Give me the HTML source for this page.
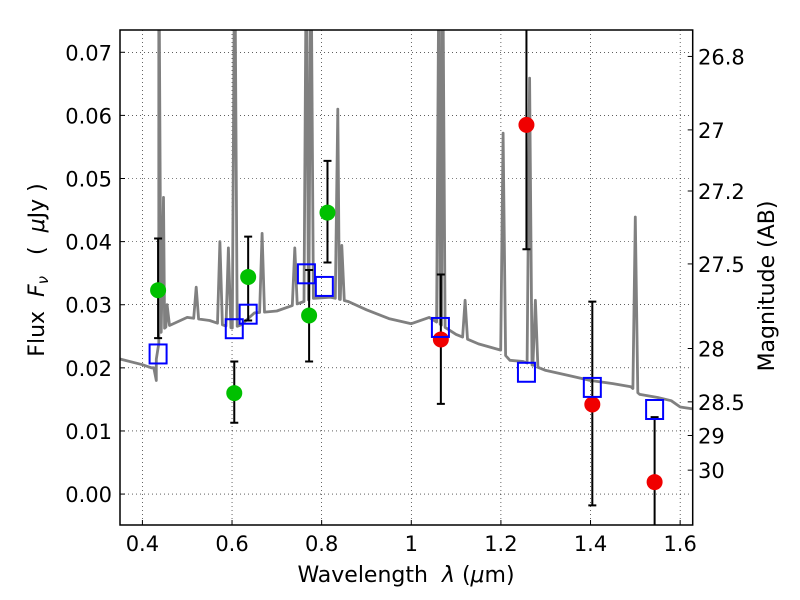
<!DOCTYPE html>
<html><head><meta charset="utf-8"><style>
body{margin:0;background:#fff}
svg text{font-family:"DejaVu Sans","Liberation Sans",sans-serif;white-space:pre}
</style></head><body>
<svg id="chart" width="800" height="600" xmlns="http://www.w3.org/2000/svg" style="position:absolute;left:0;top:0">
<rect width="800" height="600" fill="#fff"/>
<defs><clipPath id="clip"><rect x="120" y="30" width="572.7" height="495"/></clipPath></defs>
<g id="grid"></g>
<g id="plot" clip-path="url(#clip)"></g>
<g id="axes"></g>
</svg>
<script>
const contW=[0.35,0.40,0.42,0.428,0.44,0.451,0.5,0.55,0.6,0.62,0.65,0.7,0.74,0.78,0.82,0.86,0.9,0.95,1.0,1.04,1.08,1.1,1.15,1.2,1.22,1.25,1.3,1.35,1.4,1.45,1.49,1.51,1.55,1.58,1.6,1.628];
const contF=[0.0214,0.0205,0.0200,0.0200,0.0255,0.0264,0.0280,0.0275,0.0263,0.0268,0.0287,0.0290,0.0300,0.0310,0.0312,0.0305,0.0292,0.0278,0.0270,0.0280,0.0262,0.0253,0.0238,0.0228,0.0212,0.0210,0.0196,0.0188,0.0180,0.0175,0.0170,0.0158,0.0153,0.0148,0.0138,0.0135];
const lineW=[0.431,0.4365,0.447,0.455,0.52,0.573,0.592,0.606,0.667,0.74,0.766,0.776,0.836,0.845,1.062,1.07,1.12,1.205,1.264,1.277,1.50];
const lineF=[0.018,0.09,0.047,0.030,0.0328,0.040,0.039,0.09,0.0413,0.039,0.09,0.09,0.061,0.0394,0.09,0.09,0.0307,0.0572,0.0659,0.0307,0.0439];
const greenW=[0.435,0.605,0.636,0.772,0.813];
const greenF=[0.0323,0.0160,0.0344,0.0283,0.0446];
const greenLo=[0.0247,0.0113,0.0275,0.0210,0.0367];
const greenHi=[0.0405,0.0210,0.0408,0.0355,0.0528];
const redW=[1.066,1.257,1.404,1.543];
const redF=[0.0245,0.0585,0.0142,0.0019];
const redLo=[0.0143,0.0388,-0.0018,-0.01];
const redHi=[0.0348,0.09,0.0305,0.0122];
const blueW=[0.435,0.605,0.636,0.766,0.806,1.065,1.257,1.404,1.543];
const blueF=[0.0222,0.0262,0.0285,0.0349,0.0329,0.0264,0.0193,0.0169,0.0134];
const xTicks=[0.4,0.6,0.8,1,1.2,1.4,1.6];
const yTicks=[0,0.01,0.02,0.03,0.04,0.05,0.06,0.07];
const magTicks=[26.8,27,27.2,27.5,28,28.5,29,30];

const X0=120,X1=692.7,Y0=30,Y1=525,xmin=0.350,xmax=1.628,ymin=-0.0049,ymax=0.07353;
const sx=v=>X0+(v-xmin)/(xmax-xmin)*(X1-X0);
const sy=v=>Y1-(v-ymin)/(ymax-ymin)*(Y1-Y0);
const NS="http://www.w3.org/2000/svg";
function mk(tag,attrs,parent){const e=document.createElementNS(NS,tag);for(const k in attrs)e.setAttribute(k,attrs[k]);document.getElementById(parent).appendChild(e);return e;}

xTicks.forEach(t=>{
 const l=mk('line',{x1:sx(t),x2:sx(t),y1:Y0,y2:Y1,stroke:'#000','stroke-width':0.6,'stroke-dasharray':'1,3'},'grid');
 
 
 const tk=mk('line',{x1:sx(t),x2:sx(t),y1:Y1,y2:Y1-5,stroke:'#000'},'axes');
 
 
 const tx=mk('text',{x:sx(t),y:551,'text-anchor':'middle','font-size':21},'axes');tx.textContent=String(t);
 
 
});
yTicks.forEach(t=>{
 const l=mk('line',{x1:X0,x2:X1,y1:sy(t),y2:sy(t),stroke:'#000','stroke-width':0.6,'stroke-dasharray':'1,3'},'grid');
 
 
 const tk=mk('line',{x1:X0,x2:X0+5,y1:sy(t),y2:sy(t),stroke:'#000'},'axes');
 
 
 const tx=mk('text',{x:112,y:sy(t)+8,'text-anchor':'end','font-size':21},'axes');tx.textContent=t.toFixed(2);
 
 
});
magTicks.forEach(m=>{
 const f=Math.pow(10,(23.9-m)/2.5);
 const tk=mk('line',{x1:X1-5,x2:X1,y1:sy(f)-1,y2:sy(f)-1,stroke:'#000'},'axes');
 
 
 const tx=mk('text',{x:698,y:sy(f)+7,'font-size':21},'axes');tx.textContent=String(m);
 
 
});

const cont=w=>{for(let i=0;i<contW.length-1;i++)if(w<=contW[i+1])return contF[i]+(contF[i+1]-contF[i])*(w-contW[i])/(contW[i+1]-contW[i]);return contF[contF.length-1];};
const pts=[];
contW.forEach((w,i)=>{if(!lineW.some(lw=>Math.abs(lw-w)<0.006))pts.push([w,contF[i]]);});
lineW.forEach((w,i)=>{pts.push([w-0.0055,cont(w-0.0055)]);pts.push([w,lineF[i]]);pts.push([w+0.0055,cont(w+0.0055)]);});
pts.sort((a,b)=>a[0]-b[0]);
const spec=mk('path',{d:pts.map((p,i)=>(i?'L':'M')+sx(p[0]).toFixed(1)+','+sy(p[1]).toFixed(1)).join(''),fill:'none',stroke:'#808080','stroke-width':2.8,'stroke-linejoin':'round'},'plot');



function errs(W,Lo,Hi){W.forEach((w,i)=>{
 const g=mk('path',{d:`M${sx(w)},${sy(Lo[i])}V${sy(Hi[i])}M${sx(w)-4},${sy(Lo[i])}h8M${sx(w)-4},${sy(Hi[i])}h8`,stroke:'#000','stroke-width':2,fill:'none'},'plot');
 
 
});}
errs(greenW,greenLo,greenHi);errs(redW,redLo,redHi);
greenW.forEach((w,i)=>{const c=mk('circle',{cx:sx(w),cy:sy(greenF[i]),r:8,fill:'#00c000'},'plot');
 
 });
redW.forEach((w,i)=>{const c=mk('circle',{cx:sx(w),cy:sy(redF[i]),r:8,fill:'#f00000'},'plot');
 
 });
blueW.forEach((w,i)=>{const r=mk('rect',{x:sx(w)-8.5,y:sy(blueF[i])-9.5,width:17,height:19,fill:'none',stroke:'#0000ff','stroke-width':2},'plot');
 
 });

const fr=mk('rect',{x:X0,y:Y0,width:X1-X0,height:Y1-Y0,fill:'none',stroke:'#000','stroke-width':1.5},'axes');


</script>
<svg style="position:absolute;left:0;top:0" width="800" height="600" xmlns="http://www.w3.org/2000/svg">
<text x="406" y="582" text-anchor="middle" font-size="22" font-family="DejaVu Sans,sans-serif" style="white-space:pre">Wavelength  <tspan font-style="italic">λ</tspan> (<tspan font-style="italic">μ</tspan>m)</text>
<text transform="translate(44,270) rotate(-90)" text-anchor="middle" font-size="22" font-family="DejaVu Sans,sans-serif" style="white-space:pre">Flux  <tspan font-style="italic">F</tspan><tspan font-style="italic" font-size="15" dy="4">ν</tspan><tspan dy="-4">   (  </tspan><tspan font-style="italic">μ</tspan>Jy )</text>
<text transform="translate(774,286) rotate(-90)" text-anchor="middle" font-size="22" font-family="DejaVu Sans,sans-serif">Magnitude (AB)</text>
</svg>
</body></html>
